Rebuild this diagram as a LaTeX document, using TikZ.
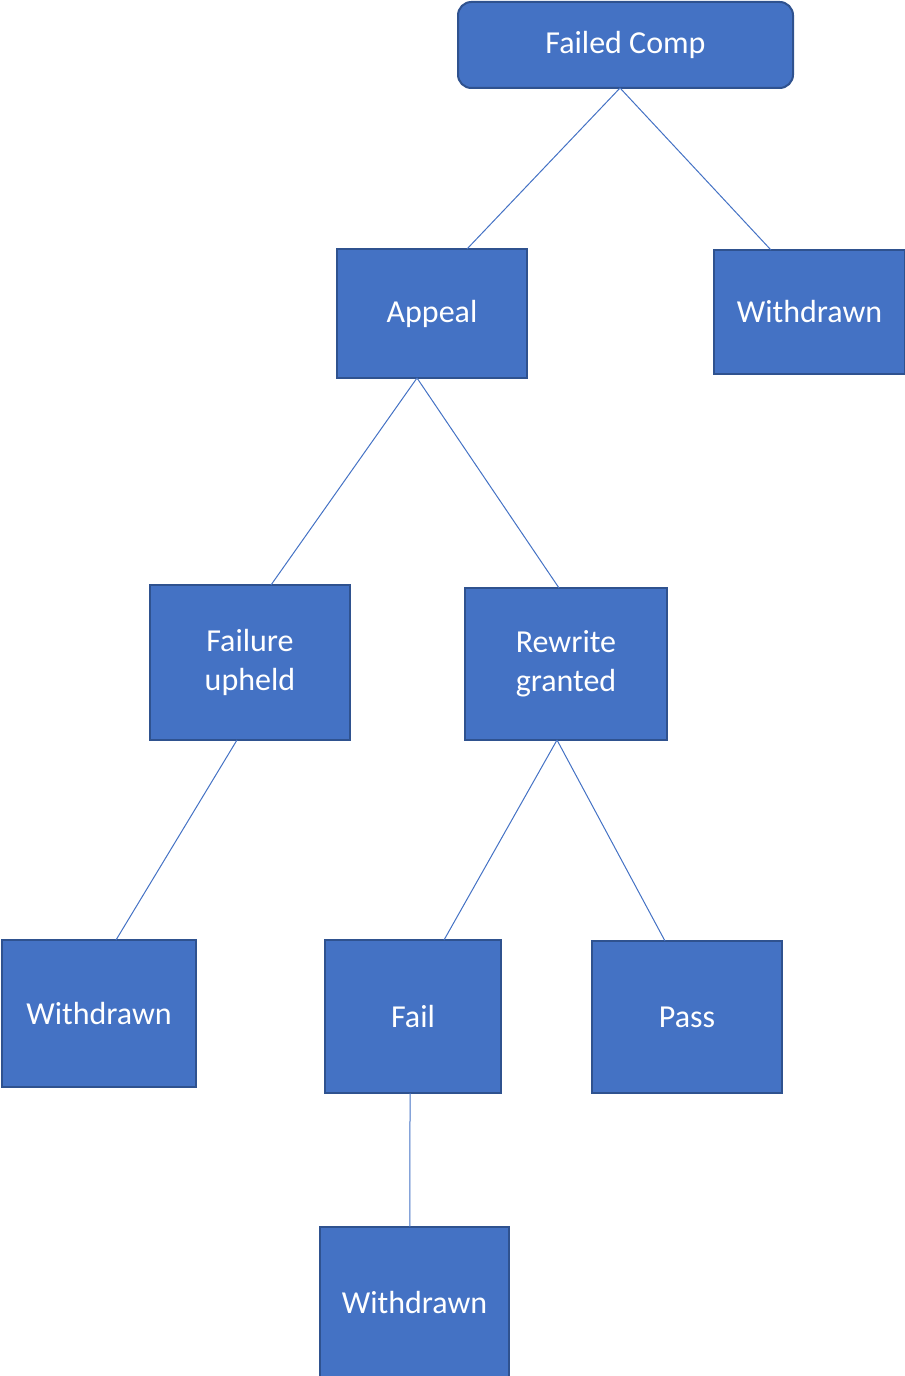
\documentclass[tikz,border=0pt]{standalone}
\usepackage{fontspec}
\setmainfont{Carlito}
\usepackage{xcolor}
\usetikzlibrary{positioning}
\definecolor{boxfill}{HTML}{4472C4}
\definecolor{boxline}{HTML}{2F528F}

\begin{document}
\begin{tikzpicture}[x=0.75pt,y=-0.75pt,
        box/.style={draw=boxline,fill=boxfill,line width=1.5pt,inner sep=0pt,outer sep=0pt,
            text=white,align=center,font=\fontsize{24}{29.3}\selectfont},
        link/.style={draw=boxfill,line width=0.75pt}]
        \useasboundingbox (0,0) rectangle (905,1376);

        \node[box,rounded corners=10pt,minimum width=251.25pt,minimum height=64.5pt] (fc) at (625.5,45){Failed Comp};
        \node[box,minimum width=142.5pt,minimum height=96.75pt] (appeal) at (432,313.5){Appeal};
        \node[box,minimum width=143.25pt,minimum height=93pt] (wdA) at (809.5,312){Withdrawn};
        \node[box,minimum width=150pt,minimum height=116.25pt] (upheld) at (250,662.5){Failure\\upheld};
        \node[box,minimum width=151.5pt,minimum height=114pt] (rewrite) at (566,664){Rewrite\\granted};
        \node[box,minimum width=145.5pt,minimum height=110.25pt] (wdB) at (99,1013.5){Withdrawn};
        \node[box,minimum width=132pt,minimum height=114.75pt] (fail) at (413,1016.5){Fail};
        \node[box,minimum width=142.5pt,minimum height=114pt] (pass) at (687,1017){Pass};
        \node[box,minimum width=141.75pt,minimum height=112.5pt] (wdC) at (414.5,1302){Withdrawn};

        \draw[link] ([xshift=-4.1pt]fc.south)--([xshift=26.25pt]appeal.north);
        \draw[link] ([xshift=-4.1pt]fc.south)--([xshift=-28.9pt]wdA.north);
        \draw[link] ([xshift=-11.25pt]appeal.south)--([xshift=15.75pt]upheld.north);
        \draw[link] ([xshift=-11.25pt]appeal.south)--([xshift=-5.25pt]rewrite.north);
        \draw[link] ([xshift=-9.75pt]upheld.south)--([xshift=12.75pt]wdB.north);
        \draw[link] ([xshift=-6.75pt]rewrite.south)--([xshift=23.25pt]fail.north);
        \draw[link] ([xshift=-6.75pt]rewrite.south)--([xshift=-16.5pt]pass.north);
        \draw[link] ([xshift=-2.25pt]fail.south)--([xshift=-3.4pt]wdC.north);
    \end{tikzpicture}
\end{document}
